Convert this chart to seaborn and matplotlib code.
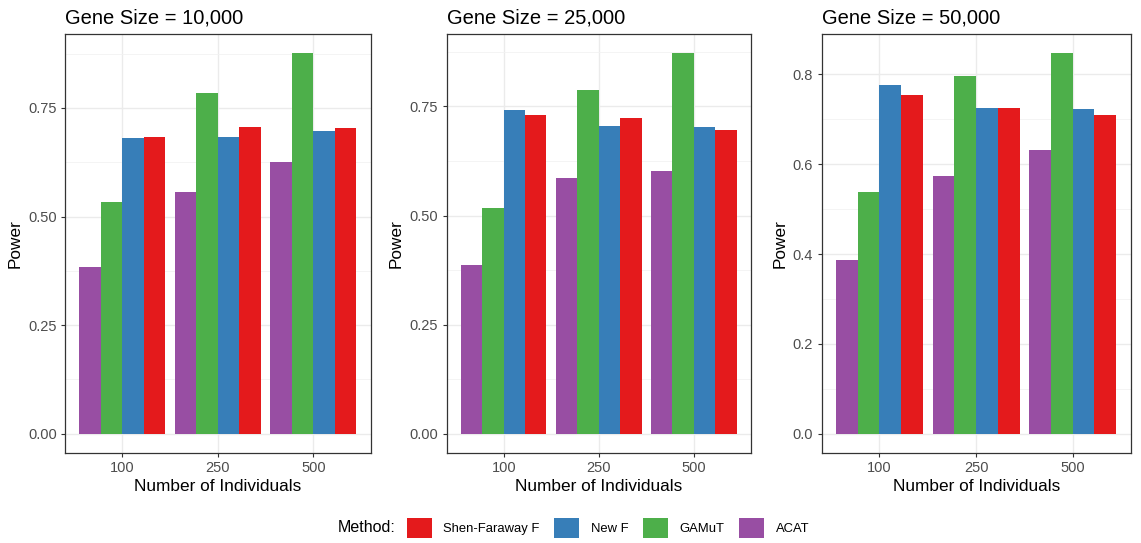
import numpy as np
import pandas as pd
import matplotlib
matplotlib.use("Agg")
import matplotlib.pyplot as plt
import seaborn as sns
from matplotlib.patches import Patch
from matplotlib.ticker import MultipleLocator

# ---- data ----
individuals = ["100", "250", "500"]
methods = ["ACAT", "GAMuT", "New F", "Shen-Faraway F"]
legend_order = ["Shen-Faraway F", "New F", "GAMuT", "ACAT"]
gene_sizes = ["10,000", "25,000", "50,000"]

acat_10k = [0.383, 0.556, 0.626]
gamut_10k = [0.533, 0.784, 0.876]
newf_10k = [0.680, 0.682, 0.696]
shen_10k = [0.682, 0.707, 0.703]

acat_25k = [0.387, 0.586, 0.602]
gamut_25k = [0.517, 0.787, 0.872]
newf_25k = [0.743, 0.706, 0.703]
shen_25k = [0.731, 0.724, 0.697]

acat_50k = [0.386, 0.573, 0.631]
gamut_50k = [0.539, 0.796, 0.847]
newf_50k = [0.776, 0.725, 0.723]
shen_50k = [0.755, 0.725, 0.709]

panels = [
    (acat_10k, gamut_10k, newf_10k, shen_10k),
    (acat_25k, gamut_25k, newf_25k, shen_25k),
    (acat_50k, gamut_50k, newf_50k, shen_50k),
]

palette = {"Shen-Faraway F": "#E41A1C", "New F": "#377EB8",
           "GAMuT": "#4DAF4A", "ACAT": "#984EA3"}

plt.rcParams["font.family"] = ["Liberation Sans", "DejaVu Sans"]

fig = plt.figure(figsize=(11.41, 5.43), dpi=100)
bottom, top = 0.1663, 0.937
lefts = [0.057, 0.3915, 0.720]
rights = [0.325, 0.658, 0.991]

for i, (vals, gs) in enumerate(zip(panels, gene_sizes)):
    rows = []
    for m, v in zip(methods, vals):
        for ind, y in zip(individuals, v):
            rows.append({"Individuals": ind, "Method": m, "Power": y})
    df = pd.DataFrame(rows)
    ax = fig.add_axes([lefts[i], bottom, rights[i] - lefts[i], top - bottom])
    ax.set_axisbelow(True)
    sns.barplot(data=df, x="Individuals", y="Power", hue="Method",
                hue_order=methods, order=individuals, palette=palette,
                width=0.9, linewidth=0, saturation=1, errorbar=None,
                legend=False, ax=ax)
    ymax = max(max(v) for v in vals)
    ax.set_xlim(-0.6, 2.6)
    ax.set_ylim(-0.05 * ymax, ymax * 1.05)
    if i < 2:
        ax.yaxis.set_major_locator(MultipleLocator(0.25))
        ax.yaxis.set_minor_locator(MultipleLocator(0.125))
        ax.yaxis.set_major_formatter(matplotlib.ticker.FormatStrFormatter("%.2f"))
    else:
        ax.yaxis.set_major_locator(MultipleLocator(0.2))
        ax.yaxis.set_minor_locator(MultipleLocator(0.1))
        ax.yaxis.set_major_formatter(matplotlib.ticker.FormatStrFormatter("%.1f"))
    ax.grid(which="major", color="#EBEBEB", linewidth=1.0)
    ax.grid(which="minor", axis="y", color="#F2F2F2", linewidth=0.6)
    ax.tick_params(which="minor", length=0)
    ax.tick_params(which="major", length=3, color="#333333", width=0.8,
                   labelsize=10.5, labelcolor="#4D4D4D", pad=3)
    for s in ax.spines.values():
        s.set_color("#333333")
        s.set_linewidth(0.9)
    ax.set_xlabel("Number of Individuals", fontsize=12.4, labelpad=3)
    ax.set_ylabel("Power", fontsize=12.4, labelpad=4)
    ax.set_title(f"Gene Size = {gs}", loc="left", fontsize=14.5, pad=8)

handles = [Patch(facecolor=palette[m], edgecolor="none") for m in legend_order]
fig.text(338 / 1141, 1 - 528 / 543, "Method:", fontsize=11.5,
         va="center", ha="left")
fig.legend(handles, legend_order, loc="center", ncol=4,
           bbox_to_anchor=(608 / 1141, 1 - 528 / 543), frameon=False,
           fontsize=9.4, handlelength=1.92, handleheight=1.92,
           handletextpad=0.85, columnspacing=1.15, borderpad=0)

fig.savefig("out.png", dpi=100)
